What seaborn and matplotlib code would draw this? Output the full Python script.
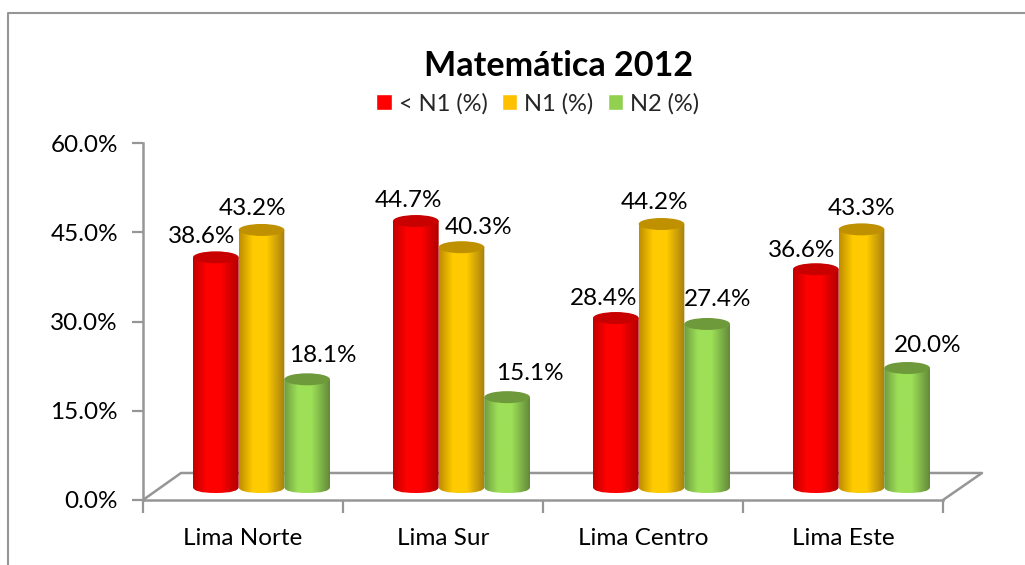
import numpy as np
import pandas as pd
import matplotlib
matplotlib.use('Agg')
import matplotlib.pyplot as plt
import seaborn as sns
from matplotlib.colors import to_rgb
from matplotlib.lines import Line2D
from matplotlib.patches import Ellipse, PathPatch
from matplotlib.path import Path
from matplotlib.ticker import FuncFormatter
from matplotlib.transforms import Affine2D

W, H = 1025, 565

categories = ['Lima Norte', 'Lima Sur', 'Lima Centro', 'Lima Este']
series = ['< N1 (%)', 'N1 (%)', 'N2 (%)']
below_n1 = [38.6, 44.7, 28.4, 36.6]
n1 = [43.2, 40.3, 44.2, 43.3]
n2 = [18.1, 15.1, 27.4, 20.0]
yticks = [0, 15, 30, 45, 60]

palette = {'< N1 (%)': '#FF0000', 'N1 (%)': '#FFC000', 'N2 (%)': '#92D050'}
# edge, bright, right edge, top cap of each cylinder
shades = {
    '< N1 (%)': ('#C40000', '#FF0000', '#B00000', '#C80000'),
    'N1 (%)': ('#BE8E00', '#FFCB00', '#A67F10', '#BF9000'),
    'N2 (%)': ('#6F9C40', '#9DE058', '#648A3A', '#6F9A3C'),
}

# label offsets in pixels from the top of each (shifted) bar, moved by hand in the original
label_dx = [[-14, -9, 16], [-7, 17, 23], [-12, -7, 10], [-14, 0, 21]]
label_dy = [21, 21, 24], [21, 20, 24], [20, 22, 24], [19, 21, 22]

GREY = '#969696'
SHIFT_X, SHIFT_Y = 18.5, 13
FLOOR_X, FLOOR_Y = 38, 27
CAP_PX = 6

sns.set_theme(style='white')
plt.rcParams['font.family'] = ['Lato', 'DejaVu Sans']

df = pd.DataFrame({
    'region': categories * 3,
    'serie': np.repeat(series, 4),
    'pct': below_n1 + n1 + n2,
})

fig = plt.figure(figsize=(W / 100, H / 100), dpi=100, facecolor='white')
ax = fig.add_axes([143 / W, 1 - 500 / H, 800 / W, 357 / H])

sns.barplot(data=df, x='region', y='pct', hue='serie', order=categories, hue_order=series,
            palette=palette, saturation=1, width=0.685, errorbar=None, ax=ax)
ax.set_xlim(-0.5, 3.5)
ax.set_ylim(0, 60)
ax.set_xlabel('')
ax.set_ylabel('')
ax.set_yticks(yticks)
ax.yaxis.set_major_formatter(FuncFormatter(lambda v, _: f'{v:.1f}%'))
ax.tick_params(axis='y', length=8, width=1.6, color=GREY, labelsize=17.5, pad=10, labelcolor='black', left=True)
ax.tick_params(axis='x', length=0, labelsize=17.5, pad=20, labelcolor='black')
ax.set_xticks(np.arange(-0.5, 4), minor=True)
ax.tick_params(axis='x', which='minor', length=9, width=1.6, color=GREY, bottom=True)
for side in ['top', 'right']:
    ax.spines[side].set_visible(False)
for side in ['left', 'bottom']:
    ax.spines[side].set_color(GREY)
    ax.spines[side].set_linewidth(1.8)

sns.move_legend(ax, 'center', bbox_to_anchor=(0.4935, 1.11), ncol=3, frameon=False, title=None,
                fontsize=17, handlelength=0.65, handleheight=0.65, handletextpad=0.3,
                columnspacing=0.6)

ax.set_title('Matemática 2012', fontsize=24.6, fontweight='bold', x=0.52, y=1.165, color='black')

fig.canvas.draw()
shift = ax.transData + Affine2D().translate(SHIFT_X, SHIFT_Y)
ppu = ax.transData.transform((0, 1))[1] - ax.transData.transform((0, 0))[1]
cap_h = 2 * CAP_PX / ppu

# floor of the 3D plot, drawn in pixels from the axis corners, behind the bars
(x0, y0), (x1, _) = ax.transData.transform([(-0.5, 0), (3.5, 0)])
ax.add_line(Line2D([x0, x0 + FLOOR_X, x1 + FLOOR_X + 1, x1],
                   [y0, y0 + FLOOR_Y, y0 + FLOOR_Y, y0],
                   transform=Affine2D(), color=GREY, lw=1.8, zorder=1, clip_on=False))

x_pos = np.linspace(0, 1, 80)
bars = list(ax.containers)
for i, (s, cont) in enumerate(zip(series, bars)):
    left, mid, right, top = [np.array(to_rgb(c)) for c in shades[s]]
    grad = np.zeros((1, x_pos.size, 3))
    for ch in range(3):
        grad[0, :, ch] = np.interp(x_pos, [0, 0.3, 0.6, 1], [left[ch], mid[ch], mid[ch], right[ch]])
    for j, bar in enumerate(cont):
        bx, bw, bh = bar.get_x(), bar.get_width(), bar.get_height()
        bar.set_visible(False)
        z = 3 + i * 0.1
        im = ax.imshow(grad, extent=(bx, bx + bw, -cap_h / 2, bh), aspect='auto', zorder=z,
                       transform=shift, interpolation='bilinear')
        rx, ry = bw / 2, cap_h / 2
        cx = bx + rx
        # body of the cylinder: straight sides and a rounded foot
        verts = [(bx, bh), (bx + bw, bh), (bx + bw, 0),
                 (bx + bw, -ry), (cx, -ry), (bx, -ry), (bx, 0), (bx, bh)]
        codes = [Path.MOVETO, Path.LINETO, Path.LINETO,
                 Path.CURVE3, Path.CURVE3, Path.CURVE3, Path.CURVE3, Path.CLOSEPOLY]
        im.set_clip_path(PathPatch(Path(verts, codes), transform=shift))
        ax.add_patch(Ellipse((cx, bh), bw, cap_h, facecolor=top, edgecolor='none', transform=shift,
                             zorder=z, clip_on=False))
        ax.annotate(f'{bh:.1f}%', xy=(cx, bh), xycoords=shift,
                    xytext=(label_dx[j][i], label_dy[j][i]),
                    textcoords='offset pixels', ha='center', va='center', fontsize=17.5,
                    color='black', zorder=10, annotation_clip=False)

ax.set_xlim(-0.5, 3.5)
ax.set_ylim(0, 60)

# chart frame, cut by the crop on the lower and right side
fig.add_artist(Line2D([8, 8, W], [0, H - 13, H - 13], transform=Affine2D(), color=GREY, lw=1.5))

fig.savefig('out.png', dpi=100)
